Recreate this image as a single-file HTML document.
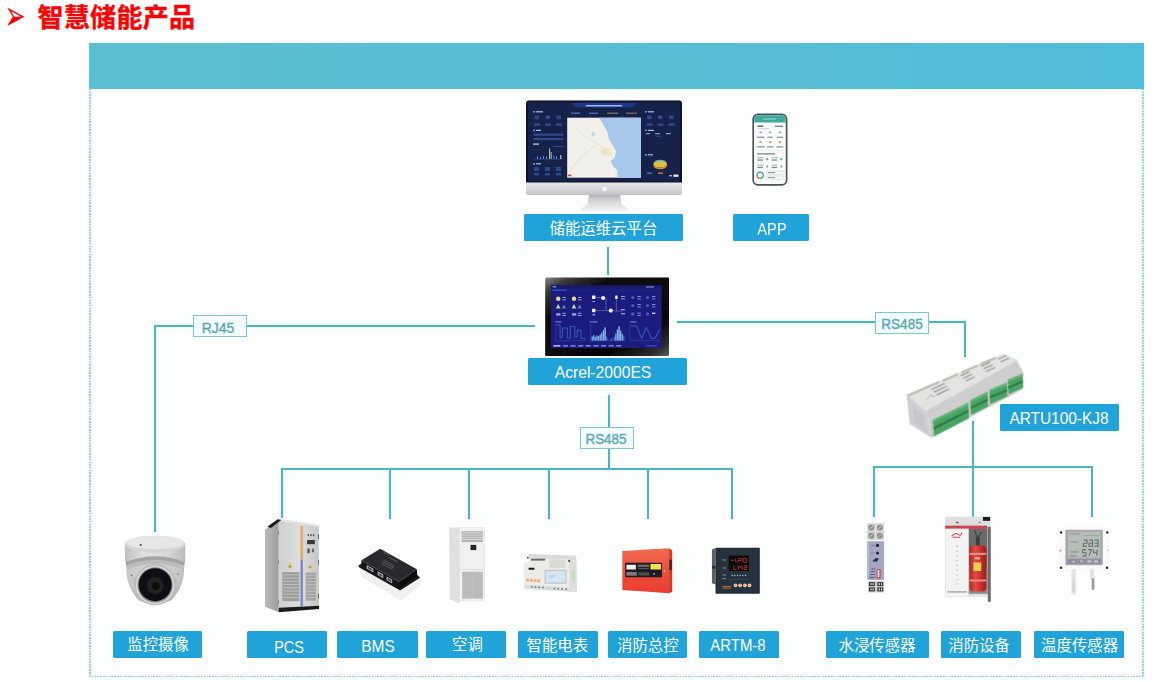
<!DOCTYPE html>
<html lang="zh-CN">
<head>
<meta charset="utf-8">
<title>智慧储能产品</title>
<style>
*{box-sizing:border-box;margin:0;padding:0}
html,body{width:1156px;height:682px;background:#fff;overflow:hidden}
body{position:relative;font-family:"Liberation Sans","Noto Sans CJK SC",sans-serif}
#stage{position:absolute;left:0;top:0;width:1156px;height:682px;overflow:hidden;background:#fff}
#title{position:absolute;left:0;top:0;height:34px;color:#ff0000;white-space:nowrap}
#title .bul{position:absolute;left:4.5px;top:3.4px;width:20px;height:26px;text-align:center;font:normal 21px/26px "DejaVu Sans",sans-serif;color:#ff0000;transform:scale(1.2,2.02);transform-origin:50% 50%}
#title .txt{position:absolute;left:37.5px;top:0;font:bold 26px/36px "Liberation Sans","Noto Sans CJK SC",sans-serif;letter-spacing:.3px;-webkit-text-stroke:.35px #ff0000}
#frame{position:absolute;left:88.5px;top:43px;width:1055.5px;height:634px;background:#fdfefe}
#frame i{position:absolute;display:block}
#frame .fl{left:0;top:46px;width:2px;height:588px;background:repeating-linear-gradient(180deg,#a4cdd8 0,#a4cdd8 1.5px,#e2f1f5 1.5px,#e2f1f5 2.7px);box-shadow:0 0 2px rgba(190,230,240,.7)}
#frame .fr{right:0;top:46px;width:1.6px;height:588px;background:repeating-linear-gradient(180deg,#a4cdd8 0,#a4cdd8 1.5px,#e2f1f5 1.5px,#e2f1f5 2.7px);box-shadow:0 0 2px rgba(190,230,240,.7)}
#frame .fb{left:0;bottom:0;width:100%;height:1.2px;background:repeating-linear-gradient(90deg,#98c9d5 0,#98c9d5 1.5px,#e2f1f5 1.5px,#e2f1f5 2.8px);box-shadow:0 0 2px rgba(190,230,240,.6)}
#band{position:absolute;left:88.5px;top:43px;width:1055.5px;height:46px;background:linear-gradient(90deg,#59bfd1 0%,#58bfd2 45%,#4fbcd9 100%)}
.ln{position:absolute;background:#4eb4be;box-shadow:0 0 1.5px rgba(140,225,235,.6)}
.lab{position:absolute;background:#1fa3d8;border-radius:1.5px;color:#fff;white-space:nowrap;font:normal 15.4px/20px "Liberation Sans","Noto Sans CJK SC",sans-serif}
.lab span{position:absolute;display:block;white-space:nowrap;transform-origin:50% 50%}
.lab.en{font-size:17px}
.tag{position:absolute;background:#f3fbfd;border:1px solid #7cc7d3;color:#57a8b6;white-space:nowrap;font:normal 14.5px/18px "Liberation Sans","Noto Sans CJK SC",sans-serif;-webkit-text-stroke:.35px #57a8b6}
.tag span{position:absolute;display:block;white-space:nowrap;transform-origin:50% 50%}
#devices{position:absolute;left:0;top:0;width:1156px;height:682px;overflow:visible}
</style>
</head>
<body>
<div id="stage">
  <div id="title"><span class="bul">➢</span><span class="txt">智慧储能产品</span></div>
  <div id="frame"><i class="fl"></i><i class="fr"></i><i class="fb"></i></div>
  <div id="band"></div>

  <!-- connector lines -->
  <div id="lines">
    <div class="ln" style="left:607px;top:247px;width:2px;height:28px"></div>
    <div class="ln" style="left:154px;top:325.4px;width:381px;height:2px"></div>
    <div class="ln" style="left:154px;top:325.4px;width:2px;height:207px"></div>
    <div class="ln" style="left:677px;top:321px;width:289px;height:2px"></div>
    <div class="ln" style="left:964px;top:321px;width:2px;height:36px"></div>
    <div class="ln" style="left:608px;top:395px;width:2px;height:74px"></div>
    <div class="ln" style="left:281px;top:468px;width:452px;height:2px"></div>
    <div class="ln" style="left:281px;top:468px;width:2px;height:50px"></div>
    <div class="ln" style="left:389px;top:468px;width:2px;height:51px"></div>
    <div class="ln" style="left:468px;top:468px;width:2px;height:51px"></div>
    <div class="ln" style="left:548px;top:468px;width:2px;height:51px"></div>
    <div class="ln" style="left:647px;top:468px;width:2px;height:51px"></div>
    <div class="ln" style="left:731px;top:468px;width:2px;height:51px"></div>
    <div class="ln" style="left:972px;top:421px;width:2px;height:96px"></div>
    <div class="ln" style="left:873px;top:466px;width:220px;height:2px"></div>
    <div class="ln" style="left:873px;top:466px;width:2px;height:51px"></div>
    <div class="ln" style="left:1091px;top:466px;width:2px;height:51px"></div>
  </div>

  <!-- protocol tags -->
  <div class="tag" style="left:193.0px;top:315.2px;width:53.7px;height:22.3px"><span style="left:24.29px;top:11.46px;transform:translate(-50%,-50%) scale(0.9605,1.0000)">RJ45</span></div>
  <div class="tag" style="left:875.3px;top:312.4px;width:53.6px;height:22.0px"><span style="left:25.54px;top:11.05px;transform:translate(-50%,-50%) scale(0.9348,1.0000)">RS485</span></div>
  <div class="tag" style="left:580.3px;top:426.9px;width:54.2px;height:22.1px"><span style="left:25.20px;top:11.51px;transform:translate(-50%,-50%) scale(0.9256,1.0000)">RS485</span></div>

  <!-- device illustrations -->
  <svg id="devices" viewBox="0 0 1156 682" width="1156" height="682">
<defs>
  <linearGradient id="gChin" x1="0" y1="0" x2="0" y2="1"><stop offset="0" stop-color="#e6e7e9"/><stop offset=".55" stop-color="#d7d8da"/><stop offset="1" stop-color="#c2c3c6"/></linearGradient>
  <linearGradient id="gStand" x1="0" y1="0" x2="0" y2="1"><stop offset="0" stop-color="#a4a6a9"/><stop offset=".2" stop-color="#c4c5c7"/><stop offset=".55" stop-color="#dcdddf"/><stop offset="1" stop-color="#f1f2f3"/></linearGradient>
  <linearGradient id="gBezel" x1="0" y1="0" x2="1" y2="1"><stop offset="0" stop-color="#8a8a8a"/><stop offset=".1" stop-color="#3a3a3a"/><stop offset=".28" stop-color="#0a0a0b"/><stop offset=".75" stop-color="#060607"/><stop offset=".92" stop-color="#353535"/><stop offset="1" stop-color="#707070"/></linearGradient>
  <linearGradient id="gBezel2" x1="0" y1="0" x2="0" y2="1"><stop offset="0" stop-color="#000" stop-opacity=".0"/><stop offset="1" stop-color="#000" stop-opacity=".15"/></linearGradient>
  <filter id="soft" x="-5%" y="-5%" width="110%" height="110%"><feGaussianBlur stdDeviation="0.45"/></filter>
</defs>
<defs>
  <linearGradient id="gCam" x1="0" y1="0" x2="1" y2="0"><stop offset="0" stop-color="#bdbdbd"/><stop offset=".3" stop-color="#e1e1e1"/><stop offset=".7" stop-color="#d9d9d9"/><stop offset="1" stop-color="#b9b9b9"/></linearGradient>
  <radialGradient id="gDome" cx=".45" cy=".3" r=".8"><stop offset="0" stop-color="#d8d8d8"/><stop offset=".6" stop-color="#c6c6c6"/><stop offset="1" stop-color="#a8a8a8"/></radialGradient>
  <linearGradient id="gPcsSide" x1="0" y1="0" x2="1" y2="0"><stop offset="0" stop-color="#b9b9b9"/><stop offset="1" stop-color="#9c9c9c"/></linearGradient>
  <linearGradient id="gPcsFront" x1="0" y1="0" x2="1" y2="0"><stop offset="0" stop-color="#cfcfcf"/><stop offset=".5" stop-color="#dedede"/><stop offset="1" stop-color="#c6c6c6"/></linearGradient>
  <linearGradient id="gRed" x1="0" y1="0" x2="0" y2="1"><stop offset="0" stop-color="#f26a52"/><stop offset=".5" stop-color="#ee4f3c"/><stop offset="1" stop-color="#e83f30"/></linearGradient>
  <linearGradient id="gExt" x1="0" y1="0" x2="1" y2="0"><stop offset="0" stop-color="#b82424"/><stop offset=".35" stop-color="#e04a44"/><stop offset=".7" stop-color="#c82c2c"/><stop offset="1" stop-color="#9a1c1c"/></linearGradient>
</defs>
<g filter="url(#soft)">
<!-- monitor : cloud platform -->
<g id="monitor">
  <path d="M589 194 L620 194 L621.5 204 L628 209 L628 211 L581 211 L581 209 L587.5 204 Z" fill="url(#gStand)"/>
  <rect x="581" y="208.8" width="47" height="2.2" fill="#ededee"/>
  <rect x="526" y="100.4" width="156" height="94.6" rx="3.2" fill="#d9dadc"/>
  <path d="M526 182 H682 V191.8 A3.2 3.2 0 0 1 678.8 195 H529.2 A3.2 3.2 0 0 1 526 191.8 Z" fill="url(#gChin)"/>
  <path d="M529.2 100.4 H678.8 A3.2 3.2 0 0 1 682 103.6 V182.6 H526 V103.6 A3.2 3.2 0 0 1 529.2 100.4 Z" fill="#10162f"/>
  <rect x="528" y="102.4" width="152" height="78.6" fill="#15204a"/>
  <circle cx="604.6" cy="189" r="2.3" fill="#f4f4f5"/>
  <!-- header strip -->
  <path d="M571 103 H637 L632 107.6 H576 Z" fill="#1d3a86"/>
  <rect x="586" y="105" width="36" height="1.5" fill="#9db8ee"/>
  <rect x="571" y="112.6" width="9" height="1.2" fill="#5c77b8"/><rect x="589" y="112.6" width="9" height="1.2" fill="#5c77b8"/>
  <rect x="607" y="112.6" width="11" height="1.2" fill="#8a7a5a"/><rect x="626" y="112.6" width="11" height="1.2" fill="#8a6a5a"/>
  <!-- map -->
  <rect x="567.2" y="117.7" width="73.6" height="60" fill="#f1efea"/>
  <path d="M599 117.7 L603 124 L607 131 L609 139 L613 146 L616 151 L615 157 L611 161 L613 166 L617 170 L618 177.7 L640.8 177.7 L640.8 117.7 Z" fill="#a7c8ea"/>
  <path d="M569 172 L580 158 L590 150 L598 143" stroke="#e8dcc0" stroke-width="0.9" fill="none"/>
  <path d="M575 128 L584 136 L592 140 L601 146 L610 150" stroke="#e6e2da" stroke-width="0.8" fill="none"/>
  <ellipse cx="604" cy="152" rx="2.6" ry="2.2" fill="#b9cfe8"/>
  <ellipse cx="593" cy="134" rx="1.6" ry="2.4" fill="#c4d6ea"/>
  <path d="M600 147 L611 149 L612 155 L603 156 Z" fill="#f2e6b8" opacity=".8"/>
  <rect x="568" y="174.6" width="3.4" height="1.6" fill="#c94b4b"/>
  <!-- left column -->
  <g fill="#6f8fd0">
    <rect x="533" y="111" width="2" height="1.6"/><rect x="536" y="111.2" width="7" height="1.2" fill="#aebfe6"/>
    <rect x="533" y="129.6" width="2" height="1.6"/><rect x="536" y="129.8" width="5" height="1.2" fill="#aebfe6"/>
    <rect x="533" y="143.4" width="6" height="1.4" fill="#aebfe6"/>
    <rect x="533" y="163" width="2" height="1.6"/><rect x="536" y="163.2" width="5" height="1.2" fill="#aebfe6"/>
  </g>
  <g fill="#2f4a8c">
    <rect x="534.6" y="115.6" width="4.6" height="3.6" rx="1"/><rect x="545.4" y="115.6" width="4.6" height="3.6" rx="1"/><rect x="556.4" y="115.6" width="4.6" height="3.6" rx="1"/>
    <rect x="534" y="123.4" width="6" height="2.4"/><rect x="545" y="123.4" width="6" height="2.4"/><rect x="556" y="123.4" width="6" height="2.4"/>
    <rect x="533.4" y="133.6" width="30" height="2.2"/><rect x="533.4" y="138" width="30" height="2.2"/>
    <rect x="534" y="167" width="5" height="4"/><rect x="545" y="167" width="5" height="4"/><rect x="556" y="167" width="5" height="4"/>
    <rect x="534" y="173" width="5" height="2.4"/><rect x="545" y="173" width="5" height="2.4"/><rect x="556" y="173" width="5" height="2.4"/>
  </g>
  <g>
    <rect x="534" y="158.8" width="30" height="0.6" fill="#3b59a0"/>
    <rect x="537" y="156.4" width="1" height="2.6" fill="#5f86d8"/><rect x="540" y="157" width="1" height="2" fill="#5f86d8"/>
    <rect x="543" y="156" width="1" height="3" fill="#5f86d8"/><rect x="546" y="156.6" width="1" height="2.4" fill="#5f86d8"/>
    <rect x="549" y="148.4" width="1.2" height="10.6" fill="#b7c27a"/><rect x="550.6" y="152" width="1.2" height="7" fill="#7fa0e0"/>
    <rect x="553.4" y="155.6" width="1" height="3.4" fill="#5f86d8"/><rect x="556" y="156.4" width="1" height="2.6" fill="#5f86d8"/>
    <rect x="560" y="155" width="1.4" height="4" fill="#b7b46a"/>
    <rect x="553" y="146" width="10" height="1" fill="#33508f"/>
  </g>
  <!-- right column -->
  <g fill="#2f4a8c">
    <rect x="647" y="115.6" width="4.6" height="3.6" rx="1"/><rect x="658" y="115.6" width="4.6" height="3.6" rx="1"/><rect x="669" y="115.6" width="4.6" height="3.6" rx="1"/>
    <rect x="646.6" y="123.4" width="6" height="2.4"/><rect x="657.6" y="123.4" width="6" height="2.4"/><rect x="668.6" y="123.4" width="6" height="2.4"/>
    <rect x="646" y="133" width="4" height="1.2" fill="#7f96cc"/><rect x="655" y="133" width="5" height="1.2" fill="#7f96cc"/><rect x="666" y="133" width="5" height="1.2" fill="#7f96cc"/>
    <rect x="656" y="135.6" width="5" height="1.2"/>
    <rect x="647" y="172.4" width="5" height="1.6" fill="#3f66c0"/><rect x="658" y="172.4" width="5" height="1.6" fill="#b0704a"/>
    <rect x="669.4" y="175" width="2.4" height="1.4" fill="#c9d4ee"/><rect x="673.4" y="174.6" width="5" height="2.2" fill="#eef1f8"/>
  </g>
  <rect x="645" y="111" width="2" height="1.6" fill="#6f8fd0"/><rect x="648" y="111.2" width="6" height="1.2" fill="#aebfe6"/>
  <rect x="645" y="129.6" width="2" height="1.6" fill="#6f8fd0"/><rect x="648" y="129.8" width="6" height="1.2" fill="#aebfe6"/>
  <rect x="645" y="154" width="2" height="1.6" fill="#6f8fd0"/><rect x="648" y="154.2" width="5" height="1.2" fill="#aebfe6"/>
  <ellipse cx="660.2" cy="164" rx="6.8" ry="3.6" fill="#e3bf3c"/>
  <path d="M653.4 163.4 A6.8 3.6 0 0 1 667 163.4 A6.8 2.2 0 0 0 653.4 163.4 Z" fill="#58b8c8"/>
  <path d="M653.4 164 A6.8 3.6 0 0 0 667 164 L667 165.6 A6.8 3.6 0 0 1 653.4 165.6 Z" fill="#c79a2a"/>
</g>

<!-- phone : APP -->
<g id="phone">
  <rect x="753.2" y="114.4" width="33.4" height="70.4" rx="4.6" fill="#fbfcfc" stroke="#4b5256" stroke-width="1.7"/>
  <path d="M754.2 118.6 A3.8 3.8 0 0 1 758 115.3 H781.8 A3.8 3.8 0 0 1 785.6 118.6 V122.4 H754.2 Z" fill="#3faa9c"/>
  <rect x="763" y="118.4" width="13" height="1.2" fill="#8fd0c6"/>
  <rect x="757.4" y="125.4" width="6" height="1.6" fill="#6d7a80"/><rect x="775" y="125.6" width="8" height="1.4" fill="#7d888c"/>
  <rect x="757.4" y="128" width="12" height="0.8" fill="#c9cfd2"/>
  <g fill="#9aa4a8">
    <rect x="759.4" y="131.6" width="2.4" height="1.6"/><rect x="769" y="131.6" width="2.4" height="1.6"/><rect x="778.6" y="131.6" width="2.4" height="1.6"/>
    <rect x="759.4" y="141.2" width="2.4" height="1.8" fill="#b9a88a"/><rect x="769" y="141.2" width="2.4" height="1.8" fill="#c9a070"/><rect x="778.6" y="141.2" width="2.4" height="1.8" fill="#c9a070"/>
  </g>
  <g fill="#8d979b">
    <rect x="757" y="136.6" width="7.4" height="1.3"/><rect x="767.4" y="136.6" width="5.4" height="1.3"/><rect x="776.6" y="136.6" width="6.4" height="1.3"/>
    <rect x="756.8" y="146.2" width="8" height="1.3"/><rect x="767" y="146.2" width="6.6" height="1.3"/><rect x="776.4" y="146.2" width="6.8" height="1.3"/>
    <rect x="757" y="153.2" width="18" height="1.3" fill="#7a868b"/>
  </g>
  <rect x="756" y="150.4" width="28" height="0.6" fill="#e3e7e8"/>
  <g fill="#aab3b6">
    <rect x="757.4" y="157.2" width="6.4" height="1.1"/><rect x="757.4" y="159.4" width="5.6" height="1.3" fill="#7f8b90"/>
    <rect x="771.6" y="157.2" width="6.4" height="1.1"/><rect x="771.6" y="159.4" width="5.6" height="1.3" fill="#7f8b90"/>
    <rect x="757.4" y="164.6" width="6.4" height="1.1"/><rect x="757.4" y="166.8" width="5.6" height="1.3" fill="#7f8b90"/>
    <rect x="771.6" y="164.6" width="5.4" height="1.1"/><rect x="771.6" y="166.8" width="5.6" height="1.3" fill="#7f8b90"/>
  </g>
  <g fill="#58b0a4"><rect x="766.2" y="158" width="2" height="2.2"/><rect x="780.4" y="158" width="2" height="2.2"/><rect x="766.2" y="165.4" width="2" height="2.2" fill="#8fa9b0"/><rect x="780.4" y="165.4" width="2" height="2.2" fill="#8fa9b0"/></g>
  <circle cx="760.2" cy="175.2" r="3.1" fill="#fff" stroke="#3aa596" stroke-width="1.3"/>
  <path d="M757.1 175.2 A3.1 3.1 0 0 0 759.6 178.3" stroke="#e0924a" stroke-width="1.3" fill="none"/>
  <rect x="766.4" y="171" width="17.6" height="3.2" rx="1.2" fill="none" stroke="#c5ccce" stroke-width=".6"/>
  <rect x="766.4" y="176" width="17.6" height="3.2" rx="1.2" fill="none" stroke="#c5ccce" stroke-width=".6"/>
  <rect x="768" y="172" width="7" height="1.1" fill="#98a3a7"/><rect x="768" y="177" width="7" height="1.1" fill="#98a3a7"/>
</g>

<!-- touch panel : Acrel-2000ES -->
<g id="panel">
  <rect x="545.2" y="277.6" width="123.8" height="78.4" rx="1.2" fill="url(#gBezel)"/>
  <rect x="545.2" y="277.6" width="123.8" height="78.4" rx="1.2" fill="url(#gBezel2)"/>
  <rect x="550.9" y="285.2" width="110.8" height="62.8" fill="#1a1f7e"/>
  <rect x="550.9" y="285.2" width="110.8" height="3.4" fill="#171a68"/>
  <rect x="552.6" y="286.2" width="3.6" height="1.2" fill="#8ea0e6"/><rect x="552.6" y="289.6" width="14" height="1.2" fill="#3c57c8"/>
  <rect x="646" y="286.4" width="8" height="1.1" fill="#7f90d6"/>
  <!-- icon rows -->
  <circle cx="558.2" cy="298.8" r="2.2" fill="#e9dc7a"/><circle cx="574" cy="298.8" r="2.2" fill="#e9dc7a"/>
  <path d="M555.8 308.4 L558.2 304 L560.6 308.4 Z M571.6 308.4 L574 304 L576.4 308.4 Z" fill="#a6dc9c"/>
  <path d="M561.8 308.4 L564 304.6 L566.2 308.4 Z M577.4 308.4 L579.6 304.6 L581.8 308.4 Z" fill="#6b76b8"/>
  <g fill="#9aa6de">
    <rect x="562.4" y="297" width="3.4" height="1"/><rect x="562.4" y="299.4" width="3.4" height="1"/>
    <rect x="578" y="297" width="3.4" height="1"/><rect x="578" y="299.4" width="3.4" height="1"/>
    <rect x="556" y="313.2" width="4.6" height="2.4" rx="1.2"/><rect x="562.4" y="312.8" width="3.4" height="1"/><rect x="562.4" y="315" width="3.4" height="1"/>
    <rect x="571.8" y="313.2" width="4.6" height="2.4" rx="1.2"/><rect x="578" y="312.8" width="3.4" height="1"/><rect x="578" y="315" width="3.4" height="1"/>
  </g>
  <g stroke="#6f7fcf" stroke-width=".6" fill="none">
    <path d="M596 297.4 H603"/><path d="M606 298 V310"/><path d="M594 310.6 H611"/><path d="M616.4 299 V311"/><path d="M613 311 H623"/>
  </g>
  <g fill="#eef1fb">
    <rect x="592" y="295.6" width="3.4" height="3.4" rx=".6"/><circle cx="603.2" cy="298" r="2.1"/>
    <rect x="592" y="308.8" width="3.4" height="3.4" rx=".6"/><circle cx="610.8" cy="310.6" r="2.1"/>
    <rect x="615.2" y="295.4" width="2.4" height="3.6" rx=".5"/>
  </g>
  <g fill="#8f9cd8"><rect x="592.4" y="301" width="2.6" height="1"/><rect x="592.4" y="314" width="2.6" height="1.4"/><rect x="621" y="296" width="4" height="1"/><rect x="621" y="298.4" width="4" height="1"/><rect x="621" y="309" width="4" height="1.2"/><rect x="621" y="313" width="4" height="1.4"/></g>
  <g fill="#3e5bb4">
    <circle cx="632.8" cy="297.6" r="1.7"/><circle cx="647.6" cy="297.6" r="1.7"/>
    <circle cx="632.8" cy="305.6" r="1.7"/><circle cx="647.6" cy="305.6" r="1.7"/>
    <circle cx="632.8" cy="314" r="1.7"/><circle cx="647.6" cy="314" r="1.7"/>
  </g>
  <g fill="#7f90d6">
    <rect x="637.4" y="296" width="3.4" height="1"/><rect x="637.4" y="298.4" width="3.4" height="1"/><rect x="652" y="296" width="3.4" height="1"/><rect x="652" y="298.4" width="3.4" height="1"/>
    <rect x="637.4" y="304" width="3.4" height="1"/><rect x="637.4" y="306.4" width="3.4" height="1"/><rect x="652" y="304" width="3.4" height="1"/><rect x="652" y="306.4" width="3.4" height="1"/>
    <rect x="637.4" y="312.6" width="3.4" height="1"/><rect x="637.4" y="315" width="3.4" height="1"/><rect x="652" y="312.6" width="3.4" height="1.4" fill="#c9d1f4"/>
  </g>
  <!-- charts -->
  <g fill="#7f90d6"><rect x="555.4" y="321.4" width="6" height="1"/><rect x="589.6" y="321.4" width="8" height="1"/><rect x="630" y="321.4" width="6.4" height="1"/></g>
  <g stroke="#3447a8" stroke-width=".5" fill="none"><path d="M555.6 324 V340.6 H586"/><path d="M590.6 324 V340.6 H626"/><path d="M629.6 324 V340.6 H660"/></g>
  <path d="M556.4 325 H560 V337.4 H562.4 V328 H567.6 V338.2 H570.4 V326.4 H574.8 V337 H577.2 V330 H581 V338.4 H585" stroke="#3e67d4" stroke-width=".8" fill="none"/>
  <g fill="#7fb2ea">
    <rect x="591.6" y="336.4" width="1.3" height="4.2"/><rect x="593.2" y="335.2" width="1.3" height="5.4"/><rect x="594.8" y="336.8" width="1.3" height="3.8"/>
    <rect x="596.4" y="335.6" width="1.3" height="5"/><rect x="598" y="336" width="1.3" height="4.6"/><rect x="599.6" y="334.6" width="1.3" height="6"/>
    <rect x="601.2" y="332.6" width="1.3" height="8"/><rect x="602.8" y="330" width="1.3" height="10.6"/><rect x="604.4" y="327.4" width="1.3" height="13.2" fill="#a6c8f2"/>
    <rect x="606" y="336.8" width="1.3" height="3.8" fill="#4f74c8"/><rect x="610.8" y="338.6" width="1.3" height="2" fill="#4f74c8"/>
    <rect x="613.6" y="337" width="1.3" height="3.6" fill="#4f74c8"/><rect x="615.2" y="333.6" width="1.3" height="7"/><rect x="616.8" y="329.4" width="1.3" height="11.2"/>
    <rect x="618.4" y="326.4" width="1.3" height="14.2" fill="#a6c8f2"/><rect x="620" y="330.6" width="1.3" height="10"/><rect x="621.6" y="333.6" width="1.3" height="7"/>
    <rect x="623.2" y="335.8" width="1.3" height="4.8" fill="#4f74c8"/>
  </g>
  <path d="M630.4 326 H636.6 L641.6 338.6 L646.4 327.4 L651.4 338.4 H655 L659.6 329.6" stroke="#3e62cc" stroke-width=".9" fill="none"/>
  <g fill="#9fb2ee"><rect x="553.4" y="345.2" width="7" height="1.3" fill="#d5defa"/><rect x="563" y="345.3" width="5" height="1.1"/><rect x="570.6" y="345.3" width="5" height="1.1"/><rect x="578.2" y="345.3" width="5" height="1.1"/><rect x="585.8" y="345.3" width="5" height="1.1"/><rect x="593.4" y="345.3" width="5" height="1.1"/><rect x="601" y="345.3" width="5" height="1.1"/><rect x="608.6" y="345.3" width="5" height="1.1"/><rect x="616.2" y="345.3" width="5" height="1.1"/><rect x="646" y="345.3" width="11" height="1" fill="#3e57b8"/></g>
</g>
<!-- DIN rail I/O module : ARTU100-KJ8 -->
<g id="artu" transform="translate(895,345) scale(0.14661)">
  <path d="M80 340 L740 60 L830 100 L878 190 L872 300 L250 632 L100 540 Z" fill="#dcdddb"/>
  <path d="M80 340 L215 455 L250 632 L100 540 Z" fill="#cfd0d3"/>
  <path d="M120 420 L200 480 L215 590 L135 540 Z" fill="#c3c4cb" opacity=".8"/>
  <path d="M80 340 L740 60 L830 110 L210 450 Z" fill="#e3e4e2"/>
  <path d="M80 340 L300 245 L300 262 L95 352 Z M325 236 L430 190 L430 206 L325 252 Z M455 178 L565 132 L565 148 L455 194 Z M580 122 L690 78 L690 94 L580 138 Z" fill="#b9c4b4"/>
  <path d="M210 450 L830 110 L872 190 L240 520 Z" fill="#cdcecd"/>
  <path d="M240 520 L872 190 L872 300 L250 632 Z" fill="#c4c6c4"/>
  <g fill="#8b8f8b" opacity=".75">
    <path d="M245 300 l90 -42 l6 8 l-90 42 Z M262 318 l90 -42 l6 8 l-90 42 Z M280 336 l90 -42 l6 8 l-90 42 Z"/>
    <path d="M445 205 l60 -28 l6 8 l-60 28 Z M462 223 l60 -28 l6 8 l-60 28 Z M480 241 l60 -28 l6 8 l-60 28 Z"/>
    <path d="M585 140 l60 -28 l6 8 l-60 28 Z M602 158 l60 -28 l6 8 l-60 28 Z M620 176 l60 -28 l6 8 l-60 28 Z"/>
    <path d="M700 92 l55 -24 l6 8 l-55 24 Z M718 110 l55 -24 l6 8 l-55 24 Z"/>
  </g>
  <path d="M215 372 l28 -30 l30 12" stroke="#9a9c9a" stroke-width="5" fill="none"/>
  <!-- green terminal blocks -->
  <g>
    <path d="M258 512 L498 395 L504 500 L268 622 Z" fill="#4aa463"/>
    <path d="M262 560 L500 442 L501 458 L264 578 Z" fill="#2e7d47"/>
    <path d="M258 512 L498 395 L499 412 L260 528 Z" fill="#62b87a"/>
    <path d="M515 375 L630 320 L634 420 L519 476 Z" fill="#4aa463"/>
    <path d="M516 420 L631 366 L632 382 L517 436 Z" fill="#2e7d47"/>
    <path d="M515 375 L630 320 L631 336 L516 391 Z" fill="#62b87a"/>
    <path d="M645 306 L762 258 L766 350 L649 402 Z" fill="#4aa463"/>
    <path d="M646 350 L763 300 L764 316 L647 366 Z" fill="#2e7d47"/>
    <path d="M645 306 L762 258 L763 273 L646 321 Z" fill="#62b87a"/>
    <path d="M770 236 L870 196 L874 290 L774 336 Z" fill="#4aa463"/>
    <path d="M771 282 L871 240 L872 256 L772 298 Z" fill="#2e7d47"/>
    <path d="M770 236 L870 196 L871 211 L771 251 Z" fill="#62b87a"/>
  </g>
</g>
<!-- dome camera -->
<g id="camera" transform="translate(105,525) scale(0.12755)">
  <path d="M155 160 L158 292 Q393 385 628 292 L630 160 Z" fill="url(#gCam)"/>
  <ellipse cx="393" cy="150" rx="238" ry="66" fill="#d4d4d4"/>
  <ellipse cx="393" cy="138" rx="226" ry="52" fill="#e6e6e6"/>
  <path d="M170 300 Q393 205 618 300 Q636 470 520 590 Q393 652 265 590 Q152 470 170 300 Z" fill="url(#gDome)"/>
  <path d="M164 290 Q393 200 624 290 L622 326 Q393 236 166 326 Z" fill="#a3a3a3"/>
  <path d="M166 318 Q393 232 622 318 L616 348 Q393 262 172 348 Z" fill="#bdbdbd"/>
  <path d="M226 430 Q393 240 560 430 L548 500 Q393 330 240 500 Z" fill="#b2b2b2" opacity=".85"/>
  <circle cx="393" cy="468" r="162" fill="#bcbcbc"/>
  <circle cx="393" cy="470" r="150" fill="#dadada"/>
  <circle cx="393" cy="470" r="138" fill="#858585"/>
  <circle cx="393" cy="468" r="129" fill="#111112"/>
  <circle cx="393" cy="474" r="66" fill="#222224"/>
  <circle cx="398" cy="478" r="30" fill="#0a0a0a"/>
  <circle cx="280" cy="157" r="9" fill="#555"/>
  <circle cx="208" cy="396" r="6" fill="#666"/><circle cx="572" cy="384" r="6" fill="#777"/>
</g>

<!-- PCS cabinet -->
<g id="pcs" transform="translate(240,510) scale(0.16129)">
  <path d="M155 122 L240 56 L240 632 L155 600 Z" fill="url(#gPcsSide)"/>
  <path d="M240 54 L488 94 L490 600 L240 612 Z" fill="url(#gPcsFront)"/>
  <path d="M240 54 L488 94 L488 106 L240 68 Z" fill="#e4e4e4"/>
  <path d="M170 102 L234 58 L256 62 L192 112 Z" fill="#1f1f1f"/>
  <path d="M240 606 L490 594 L490 614 L240 634 Z" fill="#1e1e1e"/>
  <rect x="375" y="100" width="15" height="208" fill="#e7a65c"/>
  <rect x="375" y="308" width="15" height="293" fill="#7f86c8"/>
  <rect x="262" y="385" width="106" height="180" fill="#9d9d9d"/>
  <rect x="408" y="388" width="62" height="174" fill="#a2a2a2"/>
  <g stroke="#c9c9c9" stroke-width="5">
    <path d="M262 402 H368 M262 422 H368 M262 442 H368 M262 462 H368 M262 482 H368 M262 502 H368 M262 522 H368 M262 542 H368"/>
    <path d="M408 404 H470 M408 424 H470 M408 444 H470 M408 464 H470 M408 484 H470 M408 504 H470 M408 524 H470 M408 544 H470"/>
  </g>
  <path d="M310 322 L332 362 L288 362 Z M435 326 L455 364 L415 364 Z" fill="#e2cf8a"/>
  <path d="M310 338 L320 356 L300 356 Z M435 342 L444 358 L426 358 Z" fill="#9a8a55"/>
  <rect x="416" y="186" width="48" height="26" fill="#3a3a3a"/>
  <rect x="420" y="150" width="8" height="12" fill="#444"/><rect x="436" y="150" width="8" height="12" fill="#444"/><rect x="452" y="150" width="8" height="12" fill="#444"/>
  <rect x="418" y="238" width="14" height="30" fill="#555"/><rect x="446" y="240" width="12" height="22" fill="#666"/>
  <rect x="484" y="150" width="6" height="30" fill="#666"/><rect x="484" y="310" width="6" height="30" fill="#666"/><rect x="484" y="520" width="6" height="30" fill="#666"/>
  <rect x="236" y="130" width="5" height="24" fill="#777"/><rect x="236" y="310" width="5" height="24" fill="#777"/><rect x="236" y="560" width="5" height="24" fill="#777"/>
</g>

<!-- BMS box -->
<g id="bms" transform="translate(345,530) scale(0.11734)">
  <path d="M135 330 L470 520 L640 425 L645 470 L475 600 L140 400 Z" fill="#ececec" opacity=".8"/>
  <path d="M116 300 L150 282 L470 466 L612 380 L640 408 L470 516 L118 318 Z" fill="#1d1d1e"/>
  <path d="M300 160 L612 335 L460 440 L140 258 Z" fill="#2c2c2e"/>
  <path d="M140 258 L460 440 L462 500 L140 314 Z" fill="#171718"/>
  <path d="M460 440 L612 335 L616 395 L462 500 Z" fill="#0c0c0d"/>
  <g fill="#aeb0b2">
    <path d="M185 298 L242 330 L242 362 L185 330 Z"/><path d="M278 352 L326 380 L326 412 L278 384 Z"/><path d="M354 396 L402 424 L402 456 L354 428 Z"/>
  </g>
  <g fill="#3a3a3c">
    <path d="M196 314 L232 334 L232 348 L196 328 Z"/><path d="M288 368 L317 385 L317 399 L288 382 Z"/><path d="M364 412 L393 429 L393 443 L364 426 Z"/>
  </g>
  <g stroke="#77787a" stroke-width="5" fill="none"><path d="M325 255 L420 308 M318 270 L413 323 M311 285 L406 338 M330 190 L380 216 M375 232 L450 272"/></g>
</g>

<!-- air conditioner -->
<g id="ac" transform="translate(425,518) scale(0.13782)">
  <path d="M175 68 L250 72 L250 620 L180 592 Z" fill="#e0e0e0"/>
  <rect x="250" y="70" width="181" height="532" fill="#f1f1f1" stroke="#dcdcdc" stroke-width="4"/>
  <path d="M175 68 L250 72 L431 70 L360 64 Z" fill="#e8e8e8"/>
  <rect x="265" y="95" width="155" height="80" fill="#b5b5b5"/>
  <g stroke="#e2e2e2" stroke-width="5"><path d="M265 108 H420 M265 124 H420 M265 140 H420 M265 156 H420"/></g>
  <rect x="330" y="195" width="42" height="38" fill="#26262a"/>
  <rect x="250" y="372" width="181" height="6" fill="#d4d4d4"/>
  <rect x="270" y="390" width="150" height="196" fill="#bbbbbb"/>
  <rect x="344" y="390" width="3" height="196" fill="#cccccc"/>
</g>
<!-- smart meter -->
<g id="meter" transform="translate(510,540) scale(0.09533)">
  <path d="M195 150 L690 165 L702 545 L150 512 L140 250 L190 238 Z" fill="#ebebe8"/>
  <path d="M195 150 L690 165 L692 205 L192 192 Z" fill="#d9d9d6"/>
  <path d="M620 205 L698 196 L702 545 L626 540 Z" fill="#dcdcd8"/>
  <rect x="645" y="318" width="36" height="104" rx="14" fill="#c3dfb6"/>
  <rect x="410" y="205" width="172" height="88" fill="#dbdad3"/>
  <rect x="220" y="196" width="150" height="20" fill="#6a6a6a"/>
  <circle cx="186" cy="186" r="10" fill="#555"/><circle cx="620" cy="220" r="12" fill="#4a4a4a"/>
  <rect x="195" y="290" width="62" height="22" rx="4" fill="#1f1f1f"/>
  <rect x="362" y="312" width="232" height="148" fill="#c6c8ca"/>
  <rect x="376" y="326" width="204" height="120" fill="#d3e6f4"/>
  <rect x="410" y="368" width="60" height="26" fill="#b8d2ea"/>
  <g fill="#f1bb8a"><circle cx="186" cy="420" r="19"/><circle cx="226" cy="423" r="19"/><circle cx="264" cy="426" r="19"/><circle cx="300" cy="429" r="19"/></g>
  <g fill="#e6a266"><circle cx="186" cy="420" r="7"/><circle cx="226" cy="423" r="7"/><circle cx="264" cy="426" r="7"/><circle cx="300" cy="429" r="7"/></g>
  <path d="M160 470 L700 506 L702 545 L150 512 Z" fill="#dfe0dd"/>
  <g fill="#75838c"><circle cx="230" cy="490" r="11"/><circle cx="268" cy="493" r="11"/><circle cx="306" cy="496" r="11"/><circle cx="346" cy="499" r="11"/><circle cx="465" cy="508" r="11"/><circle cx="505" cy="511" r="11"/><circle cx="546" cy="514" r="11"/><circle cx="590" cy="517" r="11"/></g>
  <rect x="385" y="490" width="40" height="30" fill="#cfcfc8"/>
</g>

<!-- fire alarm control panel -->
<g id="firectl" transform="translate(610,535) scale(0.1027)">
  <path d="M575 130 L606 150 L606 552 L575 566 Z" fill="#d63a2b"/>
  <path d="M120 156 L575 130 L575 566 L120 536 Z" fill="url(#gRed)"/>
  <rect x="578" y="240" width="24" height="104" fill="#3a2a28"/>
  <rect x="148" y="270" width="358" height="142" rx="6" fill="#1f1f20"/>
  <rect x="160" y="290" width="92" height="46" fill="#f1f1f1"/>
  <rect x="394" y="282" width="102" height="54" fill="#f1e243"/>
  <rect x="270" y="290" width="112" height="20" fill="#737373"/><rect x="276" y="320" width="100" height="12" fill="#5c5c5c"/>
  <rect x="160" y="360" width="102" height="36" fill="#7d7d7d"/><rect x="276" y="364" width="104" height="30" fill="#4d4d4d"/>
  <rect x="420" y="370" width="18" height="18" fill="#8a8a8a"/>
  <circle cx="532" cy="352" r="8" fill="#c9c9c9"/>
</g>

<!-- ARTM-8 -->
<g id="artm" transform="translate(695,535) scale(0.1027)">
  <path d="M165 142 L200 126 L200 482 L165 470 Z" fill="#5b6064"/>
  <path d="M165 300 L200 300 L200 330 L165 326 Z" fill="#2e3236"/>
  <rect x="200" y="125" width="431" height="446" rx="6" fill="#222d35"/>
  <rect x="212" y="137" width="407" height="422" rx="4" fill="#27333c"/>
  <rect x="328" y="200" width="198" height="150" fill="#0b0b0c"/>
  <g stroke="#cf2f38" stroke-width="8" fill="none">
    <path d="M350 246 H380 M395 232 V262 M418 228 H452 V248 H418 V266 M468 228 H500 V266 H468 Z"/>
    <path d="M378 300 V336 H406 M424 336 V300 L442 318 L460 300 V336 M478 300 H506 V318 H478 V336 H506"/>
  </g>
  <g fill="#7c8c98"><rect x="268" y="238" width="34" height="10"/><rect x="268" y="316" width="34" height="10"/><rect x="268" y="384" width="34" height="10"/><rect x="268" y="420" width="34" height="10"/></g>
  <g fill="#8fd0d8"><rect x="356" y="388" width="12" height="12"/><rect x="382" y="388" width="12" height="12"/><rect x="408" y="388" width="12" height="12"/><rect x="434" y="388" width="12" height="12"/><rect x="460" y="388" width="12" height="12"/><rect x="486" y="388" width="12" height="12"/></g>
  <rect x="330" y="430" width="190" height="6" fill="#3f5260"/>
  <g fill="#f3cdb4"><circle cx="395" cy="490" r="18"/><circle cx="440" cy="490" r="18"/><circle cx="486" cy="490" r="18"/><circle cx="531" cy="490" r="18"/></g>
  <g fill="#e8946a"><circle cx="395" cy="490" r="8"/><circle cx="440" cy="490" r="8"/><circle cx="486" cy="490" r="8"/><circle cx="531" cy="490" r="8"/></g>
  <rect x="268" y="498" width="84" height="10" fill="#c7743c"/><rect x="268" y="513" width="84" height="10" fill="#a8602c"/>
</g>

<!-- water leak sensor -->
<g id="water" transform="translate(835,510) scale(0.13937)">
  <rect x="232" y="95" width="120" height="120" rx="6" fill="#d2d2d2"/>
  <g fill="#8c8c8c"><circle cx="260" cy="126" r="21"/><circle cx="322" cy="126" r="21"/><circle cx="260" cy="184" r="21"/><circle cx="322" cy="184" r="21"/></g>
  <g stroke="#e6e6e6" stroke-width="6"><path d="M248 136 L272 116 M310 136 L334 116 M248 194 L272 174 M310 194 L334 174"/></g>
  <rect x="290" y="98" width="4" height="116" fill="#f1f1f1"/>
  <rect x="232" y="224" width="120" height="278" fill="#a3a7bf"/>
  <rect x="232" y="224" width="12" height="278" fill="#b4b7cc"/>
  <circle cx="305" cy="254" r="11" fill="#1c1c46"/><circle cx="305" cy="309" r="11" fill="#23234f"/>
  <rect x="258" y="250" width="28" height="5" fill="#6e739c"/><rect x="258" y="306" width="28" height="5" fill="#6e739c"/>
  <path d="M268 368 L290 346 L316 346 L300 372 Z" fill="#1f2a6c"/>
  <g fill="#4b4f7a"><rect x="262" y="420" width="26" height="6"/><rect x="256" y="440" width="32" height="6"/><rect x="250" y="460" width="38" height="6"/><rect x="244" y="480" width="44" height="6"/></g>
  <rect x="298" y="424" width="30" height="68" rx="6" fill="#c4475a"/>
  <rect x="306" y="430" width="12" height="52" fill="#f4e6ea"/>
  <rect x="236" y="510" width="116" height="82" rx="5" fill="#cdcdcd"/>
  <g fill="#2c2c2c"><rect x="244" y="518" width="42" height="28"/><rect x="304" y="518" width="42" height="28"/><rect x="244" y="556" width="42" height="28"/><rect x="304" y="556" width="42" height="28"/></g>
  <g fill="#e9e9e9"><rect x="254" y="524" width="8" height="16"/><rect x="270" y="524" width="8" height="16"/><rect x="314" y="524" width="8" height="16"/><rect x="330" y="524" width="8" height="16"/><rect x="254" y="562" width="8" height="16"/><rect x="270" y="562" width="8" height="16"/><rect x="314" y="562" width="8" height="16"/><rect x="330" y="562" width="8" height="16"/></g>
</g>

<!-- fire extinguisher cabinet -->
<g id="firedev" transform="translate(925,508) scale(0.1495)">
  <rect x="135" y="58" width="302" height="64" fill="#dfdfdf"/>
  <rect x="388" y="60" width="48" height="26" fill="#1e1e1e"/>
  <rect x="205" y="92" width="22" height="10" fill="#777"/><rect x="356" y="92" width="18" height="10" fill="#8a8"/>
  <rect x="135" y="118" width="282" height="22" fill="#c9444a"/>
  <rect x="290" y="140" width="128" height="440" fill="#6b6b6b"/>
  <rect x="290" y="400" width="128" height="180" fill="#8c8c8c"/>
  <rect x="138" y="140" width="152" height="454" fill="#f3f3f3" stroke="#dcdcdc" stroke-width="4"/>
  <rect x="290" y="574" width="128" height="20" fill="#e2e2e2"/>
  <path d="M178 190 Q200 160 222 176 T246 164 M186 196 H236" stroke="#d24850" stroke-width="7" fill="none"/>
  <g fill="#cfcfcf"><rect x="206" y="252" width="18" height="8"/><rect x="206" y="284" width="18" height="8"/><rect x="206" y="316" width="18" height="8"/><rect x="206" y="348" width="18" height="8"/><rect x="206" y="380" width="18" height="8"/><rect x="206" y="412" width="18" height="8"/><rect x="206" y="444" width="18" height="8"/><rect x="206" y="476" width="18" height="8"/><rect x="206" y="504" width="18" height="8"/></g>
  <rect x="150" y="555" width="130" height="12" fill="#b4b4b4"/>
  <rect x="340" y="196" width="26" height="62" fill="#3c3c3c"/><path d="M352 200 L330 150 M352 200 L380 160" stroke="#444" stroke-width="9"/>
  <rect x="298" y="250" width="112" height="308" rx="26" fill="url(#gExt)"/>
  <rect x="298" y="300" width="112" height="14" fill="#e88a86"/><rect x="298" y="478" width="112" height="14" fill="#e88a86"/>
  <rect x="324" y="364" width="52" height="58" fill="#e6d246"/>
  <rect x="332" y="330" width="36" height="14" fill="#f0b0a8"/>
  <rect x="420" y="125" width="20" height="502" fill="#6a6a6c"/>
</g>

<!-- temperature & humidity sensor -->
<g id="temp" transform="translate(1040,515) scale(0.13196)">
  <rect x="150" y="95" width="370" height="326" rx="12" fill="#fafafa" stroke="#f3f3f3" stroke-width="4"/>
  <rect x="192" y="112" width="284" height="268" rx="6" fill="#a8a9b0"/>
  <rect x="214" y="130" width="242" height="192" fill="#b6beb8"/>
  <rect x="226" y="140" width="80" height="8" fill="#8d958f"/><rect x="330" y="150" width="110" height="8" fill="#9aa29c"/>
  <g stroke="#6b736d" stroke-width="9" fill="none">
    <path d="M330 190 H356 V214 H330 V238 H356 M372 190 H398 V238 H372 V214 H398 M414 190 H440 V238 H414 M414 214 H440"/>
    <path d="M322 262 H348 M322 262 V286 H348 V310 H322 M364 262 H390 L372 310 M406 262 V286 H432 M432 262 V310"/>
  </g>
  <rect x="230" y="200" width="60" height="8" fill="#8d958f"/><rect x="230" y="276" width="60" height="8" fill="#8d958f"/><rect x="228" y="306" width="50" height="8" fill="#858d87"/>
  <rect x="204" y="334" width="258" height="36" fill="#8e8e9c"/>
  <g fill="#c9c9d2"><path d="M240 360 l14 -18 l14 18 Z M300 344 l14 18 l14 -18 Z"/><rect x="360" y="344" width="30" height="16"/><rect x="410" y="344" width="30" height="16"/></g>
  <g fill="#1f1f1f"><circle cx="160" cy="132" r="9"/><circle cx="510" cy="132" r="9"/><circle cx="160" cy="400" r="9"/><circle cx="508" cy="400" r="9"/></g>
  <circle cx="155" cy="270" r="7" fill="#9a9a9a"/><circle cx="513" cy="268" r="7" fill="#c4c4c4"/>
  <rect x="238" y="412" width="34" height="190" rx="8" fill="#e3e3df"/>
  <rect x="248" y="500" width="14" height="80" fill="#d2d2cc"/>
  <rect x="378" y="412" width="34" height="74" fill="#e2e2e2"/>
  <rect x="392" y="480" width="20" height="86" rx="5" fill="#9a9a9a"/>
</g>
</g>
  </svg>

  <!-- labels -->
  <div class="lab" style="left:524.3px;top:213.7px;width:158.4px;height:27.1px"><span style="left:79.12px;top:15.56px;transform:translate(-50%,-50%) scale(1.0000,1.0000)">储能运维云平台</span></div>
  <div class="lab en" style="left:733.3px;top:213.7px;width:75.7px;height:27.1px"><span style="left:38.75px;top:15.85px;transform:translate(-50%,-50%) scale(0.8644,1.0000)">APP</span></div>
  <div class="lab en" style="left:528.1px;top:358.0px;width:158.8px;height:27.2px"><span style="left:75.13px;top:15.01px;transform:translate(-50%,-50%) scale(0.9212,1.0000)">Acrel-2000ES</span></div>
  <div class="lab en" style="left:999.8px;top:404.0px;width:119.0px;height:27.0px"><span style="left:58.78px;top:15.26px;transform:translate(-50%,-50%) scale(0.9074,1.0000)">ARTU100-KJ8</span></div>
  <div class="lab" style="left:113.1px;top:631.0px;width:89.1px;height:27.0px"><span style="left:45.00px;top:14.34px;transform:translate(-50%,-50%) scale(1.0000,1.0000)">监控摄像</span></div>
  <div class="lab en" style="left:247.2px;top:631.0px;width:80.3px;height:27.0px"><span style="left:41.86px;top:17.05px;transform:translate(-50%,-50%) scale(0.8462,1.0000)">PCS</span></div>
  <div class="lab en" style="left:337.2px;top:631.0px;width:80.4px;height:27.0px"><span style="left:40.48px;top:15.55px;transform:translate(-50%,-50%) scale(0.9069,1.0000)">BMS</span></div>
  <div class="lab" style="left:426.3px;top:631.0px;width:79.9px;height:27.0px"><span style="left:41.20px;top:14.34px;transform:translate(-50%,-50%) scale(1.0000,1.0000)">空调</span></div>
  <div class="lab" style="left:517.9px;top:631.0px;width:79.7px;height:27.0px"><span style="left:39.41px;top:14.68px;transform:translate(-50%,-50%) scale(1.0000,1.0000)">智能电表</span></div>
  <div class="lab" style="left:607.7px;top:631.0px;width:79.8px;height:27.0px"><span style="left:40.15px;top:14.51px;transform:translate(-50%,-50%) scale(1.0000,1.0000)">消防总控</span></div>
  <div class="lab en" style="left:699.1px;top:631.0px;width:79.7px;height:27.0px"><span style="left:38.96px;top:14.51px;transform:translate(-50%,-50%) scale(0.8777,1.0000)">ARTM-8</span></div>
  <div class="lab" style="left:826.2px;top:631.0px;width:102.7px;height:27.0px"><span style="left:50.82px;top:14.51px;transform:translate(-50%,-50%) scale(1.0000,1.0000)">水浸传感器</span></div>
  <div class="lab" style="left:941.1px;top:631.0px;width:79.5px;height:27.0px"><span style="left:37.98px;top:14.51px;transform:translate(-50%,-50%) scale(1.0000,1.0000)">消防设备</span></div>
  <div class="lab" style="left:1033.7px;top:631.0px;width:90.2px;height:27.0px"><span style="left:45.90px;top:14.51px;transform:translate(-50%,-50%) scale(1.0000,1.0000)">温度传感器</span></div>
</div>
</body>
</html>
